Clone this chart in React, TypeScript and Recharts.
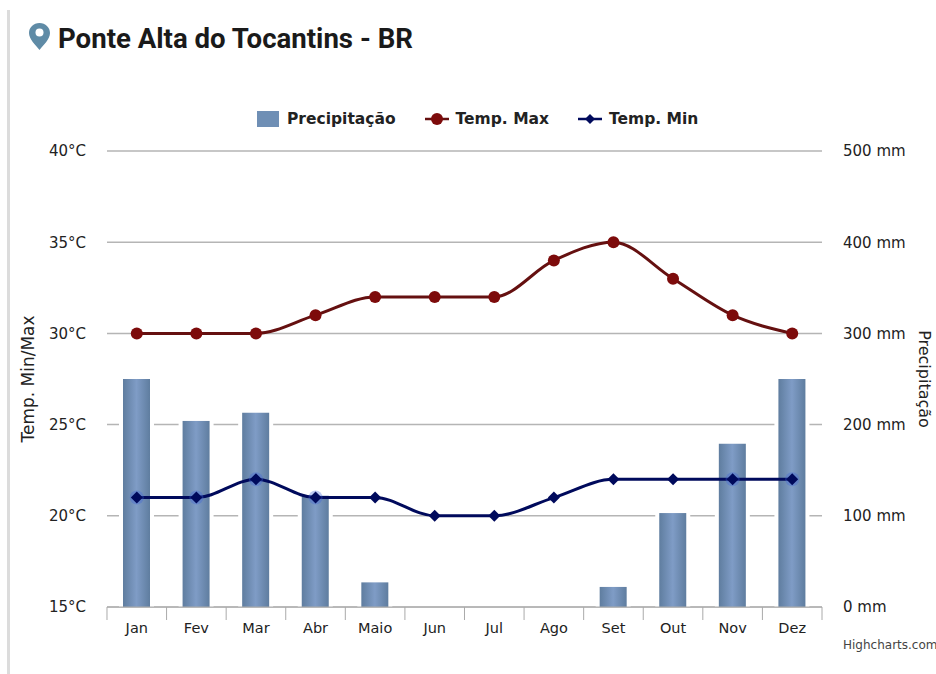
import { Bar, CartesianGrid, ComposedChart, Legend, Line, XAxis, YAxis } from 'recharts';

const months = ['Jan', 'Fev', 'Mar', 'Abr', 'Maio', 'Jun', 'Jul', 'Ago', 'Set', 'Out', 'Nov', 'Dez'];
const precipitacao = [250, 204, 213, 122, 27, 0, 0, 0, 22, 103, 179, 250];
const tempMax = [30, 30, 30, 31, 32, 32, 32, 34, 35, 33, 31, 30];
const tempMin = [21, 21, 22, 21, 21, 20, 20, 21, 22, 22, 22, 22];
const tempTicks = [15, 20, 25, 30, 35, 40];
const rainTicks = [0, 100, 200, 300, 400, 500];

const chartData = months.map((month, i) => ({
  month,
  precipitacao: precipitacao[i],
  tempMax: tempMax[i],
  tempMin: tempMin[i],
}));

const FONT = '"DejaVu Sans", sans-serif';
const RED = '#7d0b0b';
const RED_LINE = '#651010';
const NAVY = '#000a5c';
const BAND = 59.6;

function MonthTick({ x, y, payload, index }: any) {
  return (
    <g>
      <line x1={x - BAND / 2} x2={x - BAND / 2} y1={607} y2={620} stroke="#aaa" />
      {index === months.length - 1 && (
        <line x1={x + BAND / 2} x2={x + BAND / 2} y1={607} y2={620} stroke="#aaa" />
      )}
      <text x={x} y={y + 18} textAnchor="middle" fontSize={14.5} fontFamily={FONT} fill="#222">
        {payload.value}
      </text>
    </g>
  );
}

// white halo round each column, it cuts the grid lines like in the original
function HaloBar({ x, y, width, height }: any) {
  if (!height) return null;
  return (
    <g>
      <rect x={x - 4} y={y} width={width + 8} height={height} fill="#fff" />
      <rect x={x} y={y} width={width} height={height} fill="url(#barFill)" />
    </g>
  );
}

function Diamond({ cx, cy, payload }: any) {
  // the marker glows blue where it sits on a column
  const onBar = 15 + payload.precipitacao / 20 > payload.tempMin;
  return (
    <g>
      {onBar && <circle cx={cx} cy={cy} r={7} fill="#3f63d8" opacity={0.35} />}
      <path d={`M${cx} ${cy - 6}L${cx + 6} ${cy}L${cx} ${cy + 6}L${cx - 6} ${cy}Z`} fill={NAVY} />
    </g>
  );
}

function LegendRow({ payload }: any) {
  return (
    <div style={{ display: 'flex', alignItems: 'center', fontFamily: FONT, fontSize: 15.5, fontWeight: 700, color: '#222' }}>
      {(payload || []).map((item: any) => (
        <div key={item.value} style={{ display: 'flex', alignItems: 'center', marginRight: 29 }}>
          <svg width={24} height={18} style={{ marginRight: 7 }}>
            {item.value === 'Precipitação' && <rect x={1} y={1} width={22} height={16} fill="#6f8fb5" />}
            {item.value !== 'Precipitação' && <line x1={0} x2={24} y1={9} y2={9} stroke={item.color} strokeWidth={2.5} />}
            {item.value === 'Temp. Max' && <circle cx={12} cy={9} r={6} fill={RED} />}
            {item.value === 'Temp. Min' && <path d="M12 4L17 9L12 14L7 9Z" fill={NAVY} />}
          </svg>
          {item.value}
        </div>
      ))}
    </div>
  );
}

export default function App() {
  return (
    <div style={{ position: 'absolute', left: 0, top: 0, width: 936, height: 674, background: '#fff', overflow: 'hidden' }}>
      <div style={{ position: 'absolute', left: 7, top: 10, width: 3, height: 664, background: '#dcdcdc' }} />
      <svg width={24} height={30} style={{ position: 'absolute', left: 28, top: 22 }}>
        <path
          d="M11.5 1C5.5 1 1 5.5 1 11c0 6 6.5 12 10.5 17C15.5 23 22 17 22 11 22 5.5 17.5 1 11.5 1Z"
          fill="#5f8ba6"
        />
        <circle cx={11.5} cy={10.5} r={4} fill="#fff" />
      </svg>
      <div style={{ position: 'absolute', left: 58, top: 22, fontFamily: 'Roboto, sans-serif', fontWeight: 700, fontSize: 27.6, color: '#1a1a1a', whiteSpace: 'nowrap' }}>
        Ponte Alta do Tocantins - BR
      </div>
      <ComposedChart
        width={936}
        height={674}
        data={chartData}
        margin={{ top: 151, right: 54, bottom: 37, left: 47 }}
      >
        <defs>
          <linearGradient id="barFill" x1="0" x2="1" y1="0" y2="0">
            <stop offset="0%" stopColor="#5f7d9f" />
            <stop offset="50%" stopColor="#7f9cc6" />
            <stop offset="100%" stopColor="#5f7d9f" />
          </linearGradient>
        </defs>
        <CartesianGrid yAxisId="temp" vertical={false} stroke="#b5b5b5" strokeWidth={1.5} />
        <XAxis
          dataKey="month"
          height={30}
          stroke="#aaa"
          tickLine={false}
          tick={MonthTick}
          interval={0}
        />
        <YAxis
          yAxisId="temp"
          width={60}
          domain={[15, 40]}
          ticks={tempTicks}
          tickFormatter={(v) => `${v}°C`}
          axisLine={false}
          tickLine={false}
          tickMargin={15}
          tick={{ fill: '#222', fontSize: 15, fontFamily: FONT }}
          label={{ value: 'Temp. Min/Max', angle: -90, position: 'center', dx: -49, fill: '#222', fontSize: 17, fontFamily: FONT }}
        />
        <YAxis
          yAxisId="rain"
          orientation="right"
          width={60}
          domain={[0, 500]}
          ticks={rainTicks}
          tickFormatter={(v) => `${v} mm`}
          axisLine={false}
          tickLine={false}
          tickMargin={15}
          tick={{ fill: '#222', fontSize: 15, fontFamily: FONT }}
          label={{ value: 'Precipitação', angle: 90, position: 'center', dx: 73, fill: '#222', fontSize: 16, fontFamily: FONT }}
        />
        <Legend
          verticalAlign="middle"
          wrapperStyle={{ position: 'absolute', left: 256, top: 110, width: 560 }}
          content={LegendRow}
        />
        <Bar yAxisId="rain" dataKey="precipitacao" name="Precipitação" barSize={27} fill="#6f8fb5" shape={HaloBar} isAnimationActive={false} />
        <Line yAxisId="temp" type="monotone" dataKey="tempMax" name="Temp. Max" stroke={RED_LINE} strokeWidth={3} dot={{ r: 6, fill: RED, stroke: RED, strokeWidth: 0 }} isAnimationActive={false} />
        <Line yAxisId="temp" type="monotone" dataKey="tempMin" name="Temp. Min" stroke={NAVY} strokeWidth={3} dot={Diamond} isAnimationActive={false} />
      </ComposedChart>
      <div style={{ position: 'absolute', left: 843, top: 638, fontFamily: FONT, fontSize: 12, color: '#444', whiteSpace: 'nowrap' }}>
        Highcharts.com
      </div>
    </div>
  );
}
